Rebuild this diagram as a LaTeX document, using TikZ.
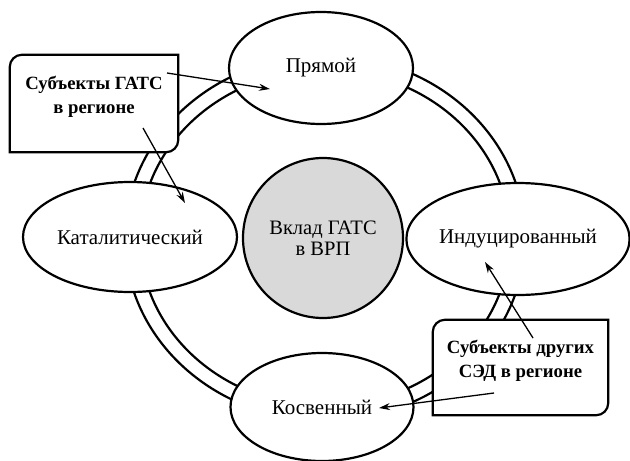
\documentclass[tikz,border=0pt]{standalone}
\usepackage{fontspec}
\setmainfont{Liberation Serif}
\usepackage{tikz}
\usetikzlibrary{shapes.geometric,arrows.meta}

\begin{document}
\begin{tikzpicture}[x=1pt,y=-1pt]
\tikzstyle{every node}+=[inner sep=0pt]
\tikzstyle{oval}=[ellipse, draw=black, line width=2.2pt, fill=white, font=\fontsize{21}{22}\selectfont]
\tikzstyle{frame}=[draw=black, line width=2.2pt, fill=white]
\tikzstyle{boxtext}=[align=center, font=\fontsize{18.7}{23.5}\selectfont\bfseries]
\tikzstyle{link}=[black, line width=1.3pt, -{Stealth[length=11pt,width=7pt]}]
\useasboundingbox (0,0) rectangle (630,461);
\fill [white] (0,0) rectangle (630,461);
% ring
\coordinate (ring) at (325,238);
\draw [black, line width=2.2pt] (ring) ellipse [x radius=200, y radius=182.5];
\draw [black, line width=2.2pt] (ring) ellipse [x radius=185, y radius=168];
% effects
\node [oval, minimum width=184, minimum height=112] (pryamoy) at (321,68) {Прямой};
\node [oval, minimum width=214, minimum height=110] (katal) at (130,237) {Каталитический};
\node [oval, minimum width=222, minimum height=112] (indu) at (518,239) {Индуцированный};
\node [oval, minimum width=183, minimum height=108] (kosv) at (322,407) {Косвенный};
\node [circle, draw=black, line width=2.2pt, fill=black!15, minimum size=160, align=center, font=\fontsize{20.5}{21.5}\selectfont] (vklad) at (323,238) {Вклад ГАТС\\в ВРП};
% subjects
\node [minimum width=168, minimum height=97] (gats) at (94,103.5) {};
\filldraw [frame] (gats.south west) [rounded corners=12pt] -- (gats.north west) [sharp corners] -- (gats.north east) [rounded corners=12pt] -- (gats.south east) [sharp corners] -- cycle;
\node [boxtext] (gatsText) at ([yshift=6.5pt]gats.center) {Субъекты ГАТС\\в регионе};
\node [minimum width=175, minimum height=95] (sed) at (520.5,367.5) {};
\filldraw [frame] (sed.south west) [rounded corners=12pt] -- (sed.north west) [sharp corners] -- (sed.north east) [rounded corners=12pt] -- (sed.south east) [sharp corners] -- cycle;
\node [boxtext] (sedText) at ([yshift=6.8pt]sed.center) {Субъекты других\\СЭД в регионе};
% arrows
\coordinate (gats-a) at (167,73);
\coordinate (pryamoy-in) at (270,89);
\coordinate (gats-b) at (143,128);
\coordinate (katal-in) at (185,203);
\coordinate (sed-a) at (533,338);
\coordinate (indu-in) at (485,262);
\coordinate (sed-b) at (494,393);
\coordinate (kosv-in) at (379,408);
\draw [link] (gats-a) -- (pryamoy-in);
\draw [link] (gats-b) -- (katal-in);
\draw [link] (sed-a) -- (indu-in);
\draw [link] (sed-b) -- (kosv-in);
\end{tikzpicture}
\end{document}
